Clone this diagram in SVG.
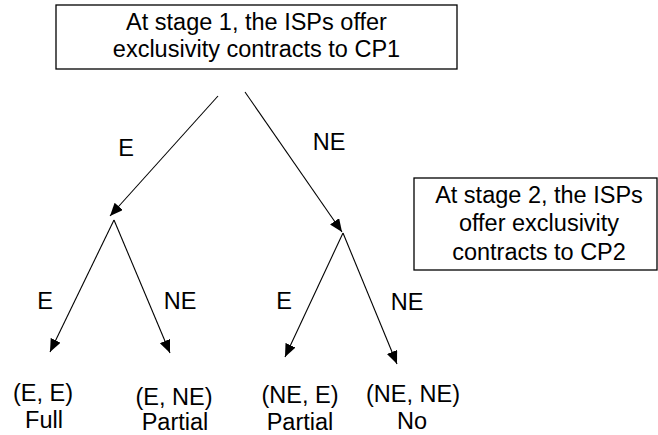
<svg xmlns="http://www.w3.org/2000/svg" width="658" height="435" viewBox="0 0 658 435">
<style>
  text { font-family: "Liberation Sans", Arial, sans-serif; font-size: 23.5px; fill: #000; text-anchor: middle; }
  .box { fill: #fff; stroke: #000; stroke-width: 1.3; }
  .edge { stroke: #000; stroke-width: 1.1; fill: none; marker-end: url(#arrow); }
</style>
<defs>
  <marker id="arrow" markerUnits="userSpaceOnUse" markerWidth="14" markerHeight="12" refX="13" refY="5.5" orient="auto">
    <path d="M0,0 L13,5.5 L0,11 z" fill="#000"/>
  </marker>
</defs>
<rect width="658" height="435" fill="#fff"/>
<g id="stage1">
  <rect class="box" x="56" y="5" width="401" height="64"/>
  <text x="256.5" y="30">At stage 1, the ISPs offer</text>
  <text x="256.5" y="57">exclusivity contracts to CP1</text>
</g>
<g id="stage2">
  <rect class="box" x="414" y="178" width="243" height="92"/>
  <text x="539" y="203">At stage 2, the ISPs</text>
  <text x="539" y="231">offer exclusivity</text>
  <text x="539" y="260">contracts to CP2</text>
</g>
<g id="connectors">
  <line class="edge" x1="218" y1="96" x2="110" y2="216"/>
  <line class="edge" x1="245" y1="92" x2="342" y2="232"/>
  <line class="edge" x1="114" y1="220" x2="50" y2="352"/>
  <line class="edge" x1="114" y1="220" x2="170" y2="353"/>
  <line class="edge" x1="343" y1="233" x2="285" y2="357"/>
  <line class="edge" x1="343" y1="233" x2="397" y2="364"/>
  <text x="126" y="156">E</text>
  <text x="329" y="150">NE</text>
  <text x="45" y="309">E</text>
  <text x="180" y="309">NE</text>
  <text x="284" y="309">E</text>
  <text x="407" y="310">NE</text>
</g>
<g id="outcome-EE">
  <text x="43" y="401">(E, E)</text>
  <text x="44" y="428">Full</text>
</g>
<g id="outcome-ENE">
  <text x="174" y="405">(E, NE)</text>
  <text x="175" y="430">Partial</text>
</g>
<g id="outcome-NEE">
  <text x="300" y="403">(NE, E)</text>
  <text x="300" y="430">Partial</text>
</g>
<g id="outcome-NENE">
  <text x="413" y="402">(NE, NE)</text>
  <text x="412" y="429">No</text>
</g>
</svg>
